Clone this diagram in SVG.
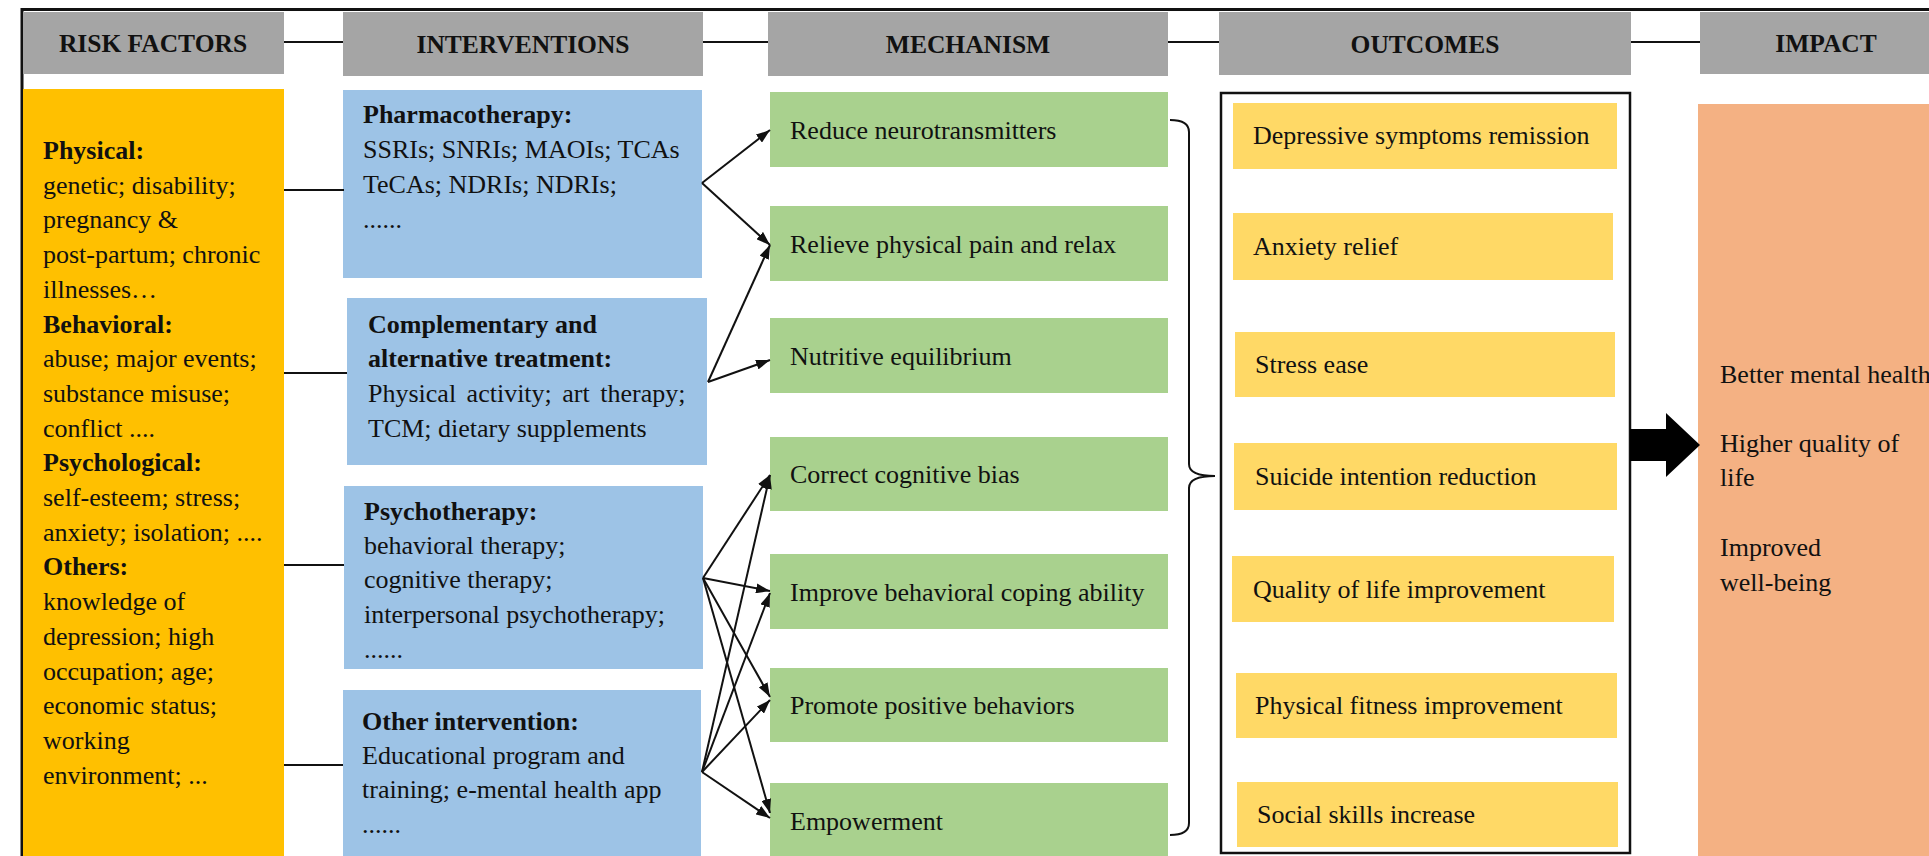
<svg xmlns="http://www.w3.org/2000/svg" width="1929" height="856" viewBox="0 0 1929 856">
<style>
text{font-family:"Liberation Serif","Times New Roman",serif;font-size:26px;fill:#111}
.b{font-weight:bold}
.hd{fill:#A5A5A5}
.hdt{font-weight:bold;text-anchor:middle;font-size:25.5px}
.risk{fill:#FFC000}
.blue{fill:#9DC3E6}
.green{fill:#A9D18E}
.out{fill:#FFD966}
.imp{fill:#F4B183}
.ln{stroke:#111;stroke-width:2;fill:none}
.ar{stroke:#111;stroke-width:2;fill:none;marker-end:url(#ah)}
</style>
<defs>
<marker id="ah" viewBox="0 0 14 10" refX="14" refY="5" markerWidth="14" markerHeight="10" markerUnits="userSpaceOnUse" orient="auto">
<path d="M0,0 L14,5 L0,10 Z" fill="#111"/>
</marker>
</defs>
<rect width="1929" height="856" fill="#fff"/>
<path d="M22,856 V9.5 H1929" stroke="#111" stroke-width="3" fill="none"/>

<g id="headers">
<rect class="hd" x="23" y="12" width="261" height="62"/>
<text class="hdt" x="153" y="52">RISK FACTORS</text>
<rect class="hd" x="343" y="12" width="360" height="64"/>
<text class="hdt" x="523" y="53">INTERVENTIONS</text>
<rect class="hd" x="768" y="12" width="400" height="64"/>
<text class="hdt" x="968" y="53">MECHANISM</text>
<rect class="hd" x="1219" y="12" width="412" height="63"/>
<text class="hdt" x="1425" y="53">OUTCOMES</text>
<rect class="hd" x="1700" y="12" width="229" height="62"/>
<text class="hdt" x="1826" y="52">IMPACT</text>
</g>

<g id="risk-factors">
<rect class="risk" x="23" y="89" width="261" height="767"/>
<text x="43" y="159"><tspan class="b">Physical:</tspan>
<tspan x="43" y="193.7">genetic; disability;</tspan>
<tspan x="43" y="228.4">pregnancy &amp;</tspan>
<tspan x="43" y="263">post-partum; chronic</tspan>
<tspan x="43" y="297.8">illnesses…</tspan>
<tspan x="43" y="332.5" class="b">Behavioral:</tspan>
<tspan x="43" y="367">abuse; major events;</tspan>
<tspan x="43" y="402">substance misuse;</tspan>
<tspan x="43" y="436.6">conflict ....</tspan>
<tspan x="43" y="471" class="b">Psychological:</tspan>
<tspan x="43" y="506">self-esteem; stress;</tspan>
<tspan x="43" y="541">anxiety; isolation; ....</tspan>
<tspan x="43" y="575.4" class="b">Others:</tspan>
<tspan x="43" y="610">knowledge of</tspan>
<tspan x="43" y="645">depression; high</tspan>
<tspan x="43" y="679.5">occupation; age;</tspan>
<tspan x="43" y="714">economic status;</tspan>
<tspan x="43" y="749">working</tspan>
<tspan x="43" y="783.6">environment; ...</tspan></text>
</g>

<g id="pharmacotherapy">
<rect class="blue" x="343" y="90" width="359" height="188"/>
<text x="363" y="123"><tspan class="b">Pharmacotherapy:</tspan>
<tspan x="363" y="158">SSRIs; SNRIs; MAOIs; TCAs</tspan>
<tspan x="363" y="193">TeCAs; NDRIs; NDRIs;</tspan>
<tspan x="363" y="228">......</tspan></text>
</g>

<g id="complementary">
<rect class="blue" x="347" y="298" width="360" height="167"/>
<text x="368" y="333"><tspan class="b">Complementary and</tspan>
<tspan x="368" y="367" class="b">alternative treatment:</tspan>
<tspan x="368" y="402" word-spacing="4">Physical activity; art therapy;</tspan>
<tspan x="368" y="437">TCM; dietary supplements</tspan></text>
</g>

<g id="psychotherapy">
<rect class="blue" x="344" y="486" width="359" height="183"/>
<text x="364" y="520"><tspan class="b">Psychotherapy:</tspan>
<tspan x="364" y="554">behavioral therapy;</tspan>
<tspan x="364" y="588">cognitive therapy;</tspan>
<tspan x="364" y="623">interpersonal psychotherapy;</tspan>
<tspan x="364" y="658">......</tspan></text>
</g>

<g id="other-intervention">
<rect class="blue" x="343" y="690" width="358" height="166"/>
<text x="362" y="730"><tspan class="b">Other intervention:</tspan>
<tspan x="362" y="764">Educational program and</tspan>
<tspan x="362" y="798">training; e-mental health app</tspan>
<tspan x="362" y="833">......</tspan></text>
</g>

<g id="mech-reduce"><rect class="green" x="770" y="92" width="398" height="75"/><text x="790" y="138.5">Reduce neurotransmitters</text></g>
<g id="mech-relieve"><rect class="green" x="770" y="206" width="398" height="75"/><text x="790" y="252.5">Relieve physical pain and relax</text></g>
<g id="mech-nutritive"><rect class="green" x="770" y="318" width="398" height="75"/><text x="790" y="364.5">Nutritive equilibrium</text></g>
<g id="mech-correct"><rect class="green" x="770" y="437" width="398" height="74"/><text x="790" y="483">Correct cognitive bias</text></g>
<g id="mech-improve"><rect class="green" x="770" y="554" width="398" height="75"/><text x="790" y="600.5">Improve behavioral coping ability</text></g>
<g id="mech-promote"><rect class="green" x="770" y="668" width="398" height="74"/><text x="790" y="714">Promote positive behaviors</text></g>
<g id="mech-empower"><rect class="green" x="770" y="783" width="398" height="73"/><text x="790" y="830">Empowerment</text></g>

<g id="outcomes">
<rect x="1221" y="93" width="409" height="760" fill="none" stroke="#111" stroke-width="2.5"/>
<g id="out-depressive"><rect class="out" x="1233" y="103" width="384" height="66"/><text x="1253" y="144">Depressive symptoms remission</text></g>
<g id="out-anxiety"><rect class="out" x="1233" y="213" width="380" height="67"/><text x="1253" y="255">Anxiety relief</text></g>
<g id="out-stress"><rect class="out" x="1235" y="332" width="380" height="65"/><text x="1255" y="373">Stress ease</text></g>
<g id="out-suicide"><rect class="out" x="1234" y="443" width="383" height="67"/><text x="1255" y="485">Suicide intention reduction</text></g>
<g id="out-quality"><rect class="out" x="1232" y="556" width="382" height="66"/><text x="1253" y="598">Quality of life improvement</text></g>
<g id="out-fitness"><rect class="out" x="1236" y="673" width="381" height="65"/><text x="1255" y="714">Physical fitness improvement</text></g>
<g id="out-social"><rect class="out" x="1237" y="782" width="381" height="65"/><text x="1257" y="823">Social skills increase</text></g>
</g>

<g id="impact">
<rect class="imp" x="1698" y="104" width="231" height="752"/>
<text x="1720" y="383">Better mental health</text>
<text x="1720" y="452"><tspan>Higher quality of</tspan><tspan x="1720" y="486">life</tspan></text>
<text x="1720" y="556"><tspan>Improved</tspan><tspan x="1720" y="591">well-being</tspan></text>
</g>

<g id="connectors">
<line class="ln" x1="284" y1="42" x2="343" y2="42"/>
<line class="ln" x1="703" y1="42" x2="768" y2="42"/>
<line class="ln" x1="1168" y1="42" x2="1219" y2="42"/>
<line class="ln" x1="1631" y1="42" x2="1700" y2="42"/>
<line class="ln" x1="284" y1="190" x2="344" y2="190"/>
<line class="ln" x1="284" y1="373" x2="347" y2="373"/>
<line class="ln" x1="284" y1="565" x2="344" y2="565"/>
<line class="ln" x1="284" y1="765" x2="343" y2="765"/>
<line class="ar" x1="702" y1="183" x2="770" y2="130"/>
<line class="ar" x1="702" y1="183" x2="770" y2="245"/>
<line class="ar" x1="708" y1="382" x2="770" y2="245"/>
<line class="ar" x1="708" y1="382" x2="770" y2="360"/>
<line class="ar" x1="703" y1="578" x2="770" y2="475"/>
<line class="ar" x1="703" y1="578" x2="770" y2="591"/>
<line class="ar" x1="703" y1="578" x2="770" y2="697"/>
<line class="ar" x1="703" y1="578" x2="770" y2="813"/>
<line class="ar" x1="702" y1="772" x2="770" y2="475"/>
<line class="ar" x1="702" y1="772" x2="770" y2="593"/>
<line class="ar" x1="702" y1="772" x2="770" y2="700"/>
<line class="ar" x1="702" y1="772" x2="770" y2="818"/>
<path class="ln" d="M1170,120 Q1189,120 1189,132 V464 Q1189,476 1215,476 Q1189,476 1189,488 V823 Q1189,835 1170,835"/>
<path d="M1630,429 H1666 V413 L1700,445 L1666,477 V461 H1630 Z" fill="#000"/>
</g>
</svg>
